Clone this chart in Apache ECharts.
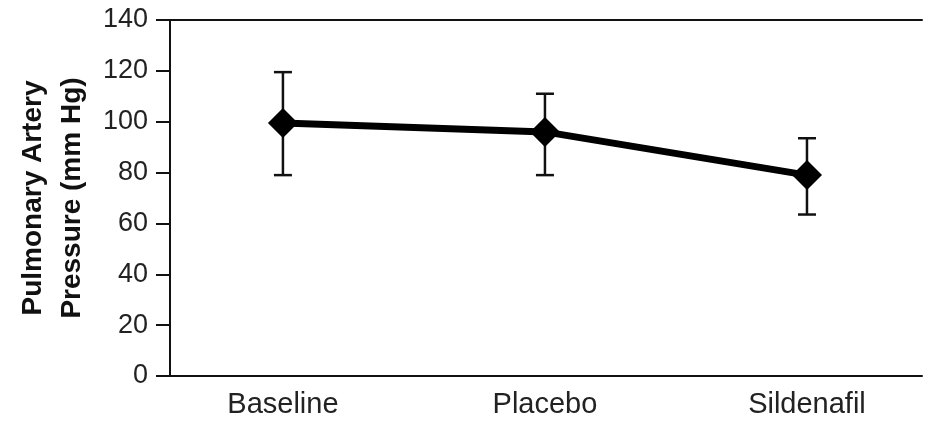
<!DOCTYPE html>
<html>
<head>
<meta charset="utf-8">
<script src="https://cdn.jsdelivr.net/npm/echarts@6/dist/echarts.min.js"></script>
<style>
  html, body { margin: 0; padding: 0; background: #fff; }
  #chart { width: 925px; height: 422px; }
</style>
</head>
<body>
<div id="chart"></div>
<script>
const categories = ['Baseline', 'Placebo', 'Sildenafil']
const means = [99.5, 96, 79]
const upper = [119.5, 111, 93.5]
const lower = [79, 79, 63.5]
const yTicks = [0, 20, 40, 60, 80, 100, 120, 140]

const chart = echarts.init(document.getElementById('chart'))
const font = 'Liberation Sans, Arial, sans-serif'
const positions = categories.map((c, i) => i)

chart.setOption({
  animation: false,
  grid: { left: 170, right: 3, top: 20, bottom: 46 },
  xAxis: [
    {
      type: 'value',
      min: -0.431,
      max: 2.439,
      splitLine: { show: false },
      axisLine: { show: true, onZero: false, lineStyle: { color: '#111', width: 2 } },
      axisTick: { show: false },
      axisLabel: {
        customValues: positions,
        formatter: (v) => categories[Math.round(v)],
        color: '#222',
        fontFamily: font,
        fontSize: 29,
        margin: 14,
      },
    },
    {
      type: 'value',
      position: 'top',
      min: -0.431,
      max: 2.439,
      splitLine: { show: false },
      axisLine: { show: true, onZero: false, lineStyle: { color: '#111', width: 2 } },
      axisTick: { show: false },
      axisLabel: { show: false },
    },
  ],
  yAxis: {
    type: 'value',
    min: 0,
    max: 140,
    interval: 20,
    splitLine: { show: false },
    axisLine: { show: true, onZero: false, lineStyle: { color: '#111', width: 2 } },
    axisTick: { show: true, length: 14, lineStyle: { color: '#111', width: 2 } },
    axisLabel: {
      customValues: yTicks,
      color: '#222',
      fontFamily: font,
      fontSize: 27,
      margin: 22,
    },
    name: 'Pulmonary Artery\nPressure (mm Hg)',
    nameLocation: 'middle',
    nameGap: 76,
    nameTextStyle: {
      color: '#111',
      fontFamily: font,
      fontSize: 28,
      fontWeight: 'bold',
      lineHeight: 39,
    },
  },
  series: [
    {
      type: 'custom',
      data: positions.map((p, i) => [p, lower[i], upper[i]]),
      renderItem: (params, api) => {
        const x = api.value(0)
        const lo = api.coord([x, api.value(1)])
        const hi = api.coord([x, api.value(2)])
        const half = 9
        const style = { stroke: '#111', lineWidth: 2.5 }
        return {
          type: 'group',
          children: [
            { type: 'line', shape: { x1: lo[0], y1: lo[1], x2: hi[0], y2: hi[1] }, style },
            { type: 'line', shape: { x1: lo[0] - half, y1: lo[1], x2: lo[0] + half, y2: lo[1] }, style },
            { type: 'line', shape: { x1: hi[0] - half, y1: hi[1], x2: hi[0] + half, y2: hi[1] }, style },
          ],
        }
      },
      z: 1,
    },
    {
      type: 'line',
      data: positions.map((p, i) => [p, means[i]]),
      symbol: 'diamond',
      symbolSize: 30,
      itemStyle: { color: '#000' },
      lineStyle: { color: '#000', width: 7 },
      z: 2,
    },
  ],
})
</script>
</body>
</html>
